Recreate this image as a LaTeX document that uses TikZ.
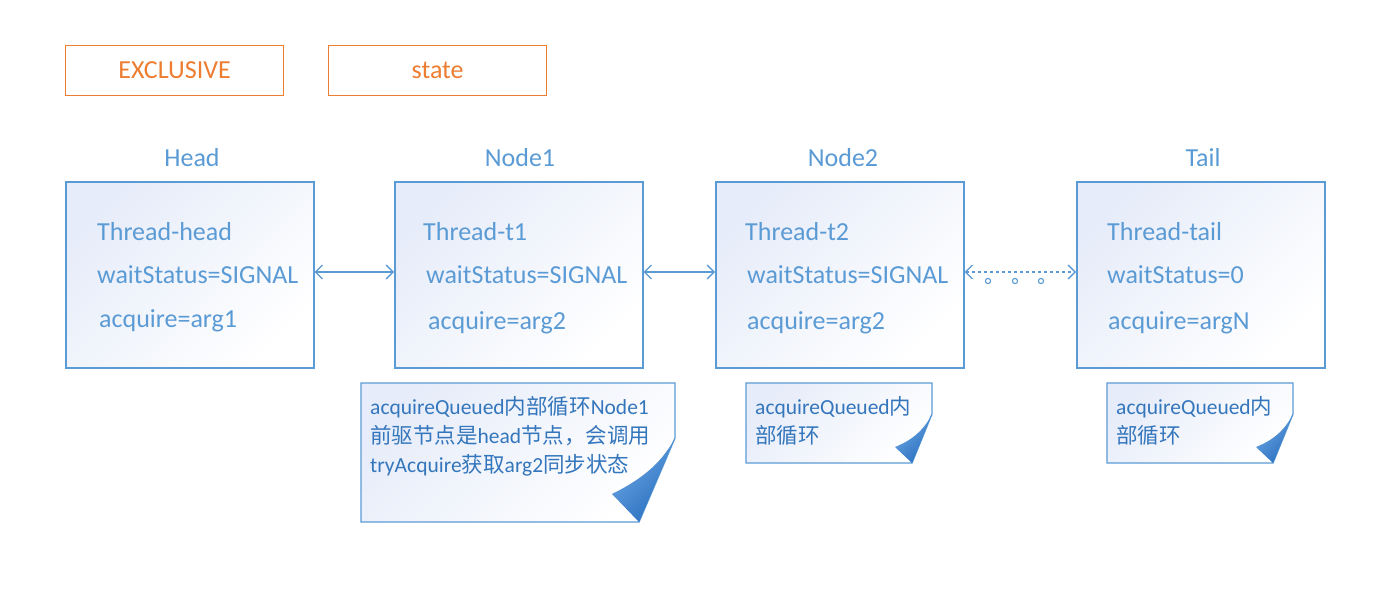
\documentclass[tikz,border=0pt]{standalone}
\usepackage{fontspec}
\setmainfont{Carlito}
\newfontfamily\cjk{Noto Sans CJK SC}
\usetikzlibrary{arrows.meta}
\definecolor{boxblue}{RGB}{91,155,213}
\definecolor{notetxt}{RGB}{52,118,188}
\definecolor{orng}{RGB}{237,125,49}
\definecolor{fillblue}{RGB}{230,236,249}
\definecolor{curldark}{RGB}{40,110,192}
\definecolor{curllight}{RGB}{110,168,226}
\tikzset{
  big/.style={font=\fontsize{26}{30}\selectfont},
  lbl/.style={big, text=boxblue, inner sep=0pt, anchor=base},
  line/.style={big, text=boxblue, inner sep=0pt, anchor=base west},
  ntxt/.style={font=\fontsize{21.5}{29}\selectfont, text=notetxt, inner sep=0pt, anchor=base west},
  obox/.style={draw=orng, line width=1.3pt, minimum width=218pt, minimum height=50pt, inner sep=0pt, text=orng, big, anchor=north west},
  paper/.style={top color=fillblue, middle color=white, bottom color=white, shading angle=45},
  qbox/.style={draw=boxblue, line width=1.5pt, paper, minimum width=248pt, minimum height=186pt, inner sep=0pt, anchor=north west},
  link/.style={draw=boxblue, line width=1.3pt, {Straight Barb[length=7pt,width=14pt]}-{Straight Barb[length=7pt,width=14pt]}},
  page/.style={draw=boxblue, line width=1.3pt, paper},
  curl/.style={top color=curllight, middle color=curldark, bottom color=curldark, shading angle=45},
}
\begin{document}
\begin{tikzpicture}[x=1pt,y=-1pt]
\useasboundingbox[fill=white] (0,0) rectangle (1376,607);
% top boxes
\node[obox] (excl) at (65,45) {EXCLUSIVE};
\node[obox] (state) at (328,45) {state};
% labels
\node[lbl] (lh) at (192,167) {Head};
\node[lbl] (l1) at (520,167) {Node1};
\node[lbl] (l2) at (843,167) {Node2};
\node[lbl] (lt) at (1203,167) {Tail};
% queue boxes
\node[qbox] (head) at (65,181) {};
\node[qbox] (n1) at (394,181) {};
\node[qbox] (n2) at (715,181) {};
\node[qbox] (tail) at (1076,181) {};
% box texts
\node[line] (h1) at (97,240) {Thread-head};
\node[line] (h2) at (97,283) {waitStatus=SIGNAL};
\node[line] (h3) at (99,327) {acquire=arg1};
\node[line] (a1) at (423,240) {Thread-t1};
\node[line] (a2) at (426,283) {waitStatus=SIGNAL};
\node[line] (a3) at (428,329) {acquire=arg2};
\node[line] (b1) at (745,240) {Thread-t2};
\node[line] (b2) at (747,283) {waitStatus=SIGNAL};
\node[line] (b3) at (747,329) {acquire=arg2};
\node[line] (t1) at (1107,240) {Thread-tail};
\node[line] (t2) at (1107,283) {waitStatus=0};
\node[line] (t3) at (1108,329) {acquire=argN};
% connectors
\draw[link] (head.east |- 0,272) -- (n1.west |- 0,272);
\draw[link] (n1.east |- 0,272) -- (n2.west |- 0,272);
\draw[link, dash pattern=on 3pt off 3pt] (n2.east |- 0,272) -- (tail.west |- 0,272);
\foreach \cx in {988,1015,1041} \draw[boxblue, line width=1.1pt] (\cx,281) circle (2.6pt);
% note 1
\path[page] (361,383) -- (675,383) -- (675,438) -- (639,522) -- (361,522) -- cycle;
\path[curl] (675,438) -- (639,522) -- (612,494) .. controls (638,481) and (660,466) .. cycle;
\node[ntxt] (m1) at (370,414) {acquireQueued{\cjk 内部循环}Node1};
\node[ntxt] (m2) at (370,443) {{\cjk 前驱节点是}head{\cjk 节点，会调用}};
\node[ntxt] (m3) at (370,472) {tryAcquire{\cjk 获取}arg2{\cjk 同步状态}};
% note 2
\path[page] (746,383) -- (932,383) -- (932,414) -- (912,463) -- (746,463) -- cycle;
\path[curl] (932,414) -- (912,463) -- (895,447) .. controls (910,441) and (923,432) .. cycle;
\node[ntxt] (p1) at (755,414) {acquireQueued{\cjk 内}};
\node[ntxt] (p2) at (755,443) {{\cjk 部循环}};
% note 3
\path[page] (1107,383) -- (1293,383) -- (1293,414) -- (1273,463) -- (1107,463) -- cycle;
\path[curl] (1293,414) -- (1273,463) -- (1256,447) .. controls (1271,441) and (1284,432) .. cycle;
\node[ntxt] (q1) at (1116,414) {acquireQueued{\cjk 内}};
\node[ntxt] (q2) at (1116,443) {{\cjk 部循环}};
\end{tikzpicture}
\end{document}
